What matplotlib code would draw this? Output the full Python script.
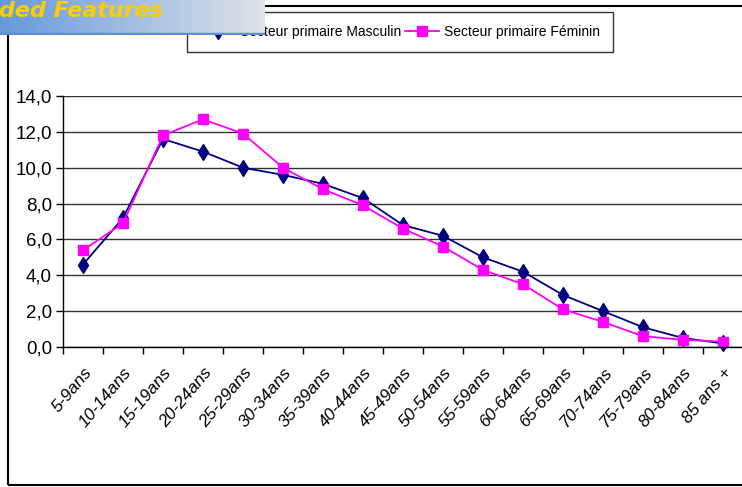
import numpy as np
import matplotlib
matplotlib.use('Agg')
import matplotlib.pyplot as plt
from matplotlib.patches import Rectangle

ages = ['5-9ans', '10-14ans', '15-19ans', '20-24ans', '25-29ans', '30-34ans',
        '35-39ans', '40-44ans', '45-49ans', '50-54ans', '55-59ans', '60-64ans',
        '65-69ans', '70-74ans', '75-79ans', '80-84ans', '85 ans +']
masculin = [4.6, 7.2, 11.6, 10.9, 10.0, 9.6, 9.1, 8.3, 6.8, 6.2, 5.0, 4.2,
            2.9, 2.0, 1.1, 0.5, 0.2]
feminin = [5.4, 6.9, 11.8, 12.7, 11.9, 10.0, 8.8, 7.9, 6.6, 5.6, 4.3, 3.5,
           2.1, 1.4, 0.6, 0.4, 0.3]
yticks = [0, 2, 4, 6, 8, 10, 12, 14]

plt.rcParams['font.family'] = ['Liberation Sans', 'DejaVu Sans']

W, H = 742, 487
fig = plt.figure(figsize=(W/100, H/100), dpi=100)

# outer chart frame
fig.patches.append(Rectangle((8/W, 2/H), 1, 1 - 8/H, transform=fig.transFigure,
                             fill=False, edgecolor='black', linewidth=1.5))

ax = fig.add_axes([63/W, 140/H, 680/W, 251/H])
x = np.arange(len(ages))
ax.plot(x, masculin, color='#000080', marker='d', markersize=8.5, linewidth=1.3,
        label='Secteur primaire Masculin', clip_on=False)
ax.plot(x, feminin, color='#FF00FF', marker='s', markersize=7, linewidth=1.3,
        label='Secteur primaire Féminin', clip_on=False)

ax.set_xlim(-0.5, len(ages) - 0.5)
ax.set_ylim(0, 14)
ax.set_yticks(yticks)
ax.yaxis.set_major_formatter(matplotlib.ticker.FuncFormatter(
    lambda v, p: ('%.1f' % v).replace('.', ',')))
ax.grid(axis='y', color='#333333', linewidth=1)
ax.set_axisbelow(True)
ax.set_xticks(x)
ax.set_xticklabels(ages, rotation=50, ha='right', rotation_mode='anchor',
                   fontstyle='italic', fontsize=12.5)
ax.tick_params(axis='x', length=0, pad=13)
ax.set_xticks(np.arange(-0.5, len(ages), 1), minor=True)
ax.tick_params(axis='x', which='minor', length=5, width=1, direction='out')
ax.tick_params(axis='y', length=5, width=1, direction='out', labelsize=13.5, pad=3)
for s in ['top', 'right']:
    ax.spines[s].set_visible(False)
ax.spines['left'].set_linewidth(1)
ax.spines['bottom'].set_linewidth(1)

leg = fig.legend(loc='upper left', bbox_to_anchor=(187/W, 1 - 12/H), ncol=2,
                 frameon=True, fancybox=False, edgecolor='black', fontsize=10,
                 borderaxespad=0, handlelength=2.5, columnspacing=0.25,
                 handletextpad=0.35, borderpad=0.95)
leg.get_frame().set_linewidth(1)

# banner overlay in top-left corner
bax = fig.add_axes([0, 1 - 35/H, 265/W, 35/H])
bax.set_zorder(10)
grad = np.linspace(0, 1, 256)[None, :, None]
c0 = np.array([0.40, 0.60, 0.86])
c1 = np.array([0.88, 0.89, 0.91])
img = c0 + (c1 - c0) * grad
bax.imshow(img, aspect='auto', extent=[0, 1, 0, 1])
bax.axhline(0.03, color='#5b8fd0', linewidth=2.5)
bax.text(-0.005, 1 - 17/35, 'ded Features', color='#FFCC00', fontsize=16,
         fontweight='bold', fontstyle='italic', family='DejaVu Sans',
         ha='left', va='baseline', transform=bax.transAxes)
bax.set_xlim(0, 1)
bax.set_ylim(0, 1)
bax.axis('off')

fig.savefig('out.png', dpi=100)
